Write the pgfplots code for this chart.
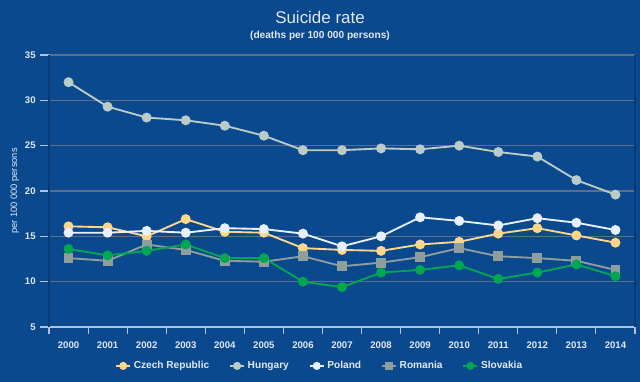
\documentclass[border=0pt]{standalone}
\usepackage{pgfplots}
\pgfplotsset{compat=1.18}
\usepackage{fontspec}
\setmainfont{Liberation Sans}
\definecolor{bg}{RGB}{11,73,143}
\definecolor{gridc}{RGB}{95,110,135}
\definecolor{txt}{RGB}{225,232,242}
\definecolor{axl}{RGB}{175,195,220}
\definecolor{shadow}{RGB}{8,58,118}
\definecolor{czech}{RGB}{253,214,138}
\definecolor{hungary}{RGB}{185,204,200}
\definecolor{poland}{RGB}{232,240,255}
\definecolor{romania}{RGB}{143,157,157}
\definecolor{slovakia}{RGB}{0,166,81}
\begin{document}
\begin{tikzpicture}[x=1pt,y=1pt]
\fill[bg] (0,0) rectangle (480,286.5);
\node[anchor=base,text=txt,font=\fontsize{12.7}{14}\selectfont] at (240,268.5) {Suicide rate};
\node[anchor=base,text=txt,font=\fontsize{7.6}{9}\selectfont\bfseries] at (240,257.3) {(deaths per 100 000 persons)};
\begin{axis}[
  at={(36.75pt,41.25pt)}, anchor=south west,
  scale only axis, width=439.5pt, height=204pt,
  xmin=-0.5, xmax=14.5, ymin=5, ymax=35,
  xtick={0,...,14},
  xticklabels={2000,2001,2002,2003,2004,2005,2006,2007,2008,2009,2010,2011,2012,2013,2014},
  minor xtick={-0.5,0.5,...,14.5},
  ytick={5,10,...,35},
  axis x line*=bottom, axis y line*=left,
  x axis line style={draw=axl,line width=0.9pt,-},
  y axis line style={draw=shadow,line width=1.5pt,-},
  major x tick style={draw=none},
  minor x tick style={draw=axl,line width=0.8pt},
  y tick style={draw=axl,line width=0.8pt},
  tick align=outside,
  major tick length=6.5pt, minor tick length=5pt,
  ymajorgrids, grid style={draw=gridc,line width=0.8pt},
  ticklabel style={text=txt,font=\fontsize{7.2}{8}\selectfont\bfseries},
  /pgf/number format/assume math mode=true,
  xticklabel style={yshift=-1pt},
  ylabel={per 100 000 persons},
  ylabel style={text=txt,font=\fontsize{7}{8}\selectfont,yshift=-2.5pt},
  legend columns=5,
  legend style={at={(0.4625,-0.143)},anchor=center,draw=none,fill=none,
    text=txt,font=\fontsize{7.6}{9}\selectfont\bfseries,
    /tikz/every even column/.append style={column sep=13pt}},
  legend image code/.code={\draw[mark repeat=2,mark phase=2,#1,mark size=2.3pt] plot coordinates {(0pt,0pt) (5.25pt,0pt) (10.5pt,0pt)};},
  every axis plot/.append style={line width=1.4pt},
  clip=false,
]
\addplot[color=czech,mark=*,mark size=3pt] coordinates {
(0,16.1) (1,16.0) (2,15.0) (3,16.9) (4,15.5) (5,15.4) (6,13.7) (7,13.5) (8,13.4) (9,14.1) (10,14.4) (11,15.3) (12,15.9) (13,15.1) (14,14.3)};
\addlegendentry{Czech Republic}
\addplot[color=hungary,mark=*,mark size=3pt] coordinates {
(0,32.0) (1,29.3) (2,28.1) (3,27.8) (4,27.2) (5,26.1) (6,24.5) (7,24.5) (8,24.7) (9,24.6) (10,25.0) (11,24.3) (12,23.8) (13,21.2) (14,19.6)};
\addlegendentry{Hungary}
\addplot[color=poland,mark=*,mark size=3pt] coordinates {
(0,15.4) (1,15.4) (2,15.6) (3,15.4) (4,15.9) (5,15.8) (6,15.3) (7,13.9) (8,15.0) (9,17.1) (10,16.7) (11,16.2) (12,17.0) (13,16.5) (14,15.7)};
\addlegendentry{Poland}
\addplot[color=romania,mark=square*,mark size=3pt] coordinates {
(0,12.6) (1,12.3) (2,14.1) (3,13.5) (4,12.3) (5,12.2) (6,12.8) (7,11.7) (8,12.1) (9,12.7) (10,13.7) (11,12.8) (12,12.6) (13,12.3) (14,11.3)};
\addlegendentry{Romania}
\addplot[color=slovakia,mark=*,mark size=3pt] coordinates {
(0,13.6) (1,12.9) (2,13.4) (3,14.1) (4,12.6) (5,12.6) (6,10.0) (7,9.4) (8,11.0) (9,11.3) (10,11.8) (11,10.3) (12,11.0) (13,11.9) (14,10.6)};
\addlegendentry{Slovakia}
\end{axis}
\draw[shadow,line width=1.5pt] (476.25,41.25) -- (476.25,245.25);
\end{tikzpicture}
\end{document}
